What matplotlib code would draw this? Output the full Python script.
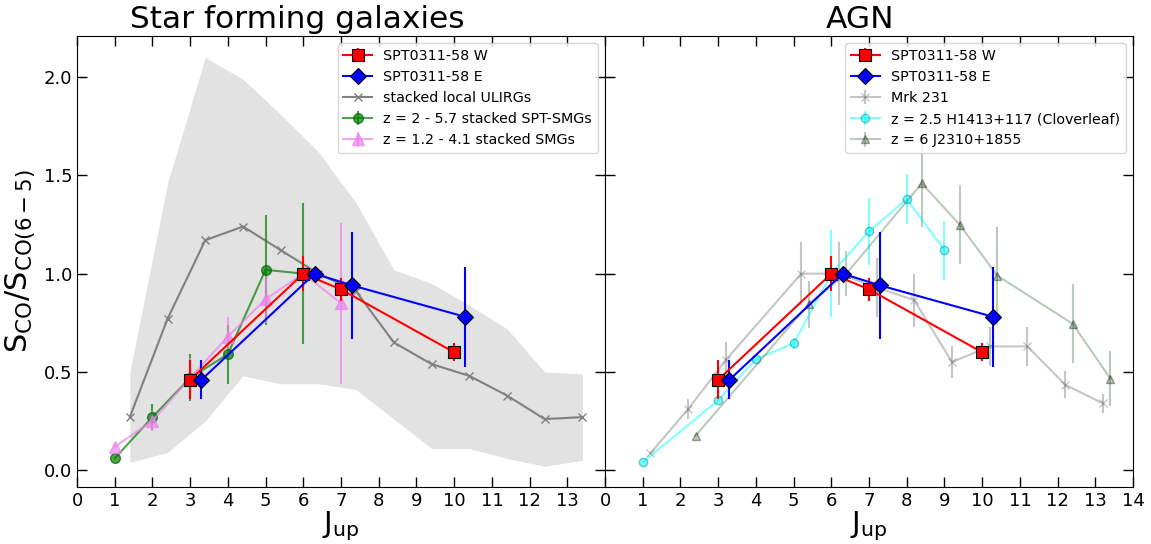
import matplotlib
matplotlib.use("Agg")
import matplotlib.pyplot as plt

# SPT0311-58 W and E, normalised to CO(6-5)
j_w = [3, 6, 7, 10]
s_w = [0.46, 1.0, 0.92, 0.60]
err_w = [0.10, 0.09, 0.06, 0.045]

j_e = [3.3, 6.3, 7.3, 10.3]
s_e = [0.46, 1.0, 0.94, 0.78]
err_e = [0.10, 0.0, 0.27, 0.255]

# stacked local ULIRGs with their spread
j_ulirg = [1.4, 2.4, 3.4, 4.4, 5.4, 6.4, 7.4, 8.4, 9.4, 10.4, 11.4, 12.4, 13.4]
s_ulirg = [0.27, 0.77, 1.17, 1.24, 1.12, 1.0, 0.91, 0.65, 0.54, 0.48, 0.38, 0.26, 0.27]
ulirg_low = [0.04, 0.09, 0.25, 0.48, 0.44, 0.44, 0.41, 0.26, 0.11, 0.11, 0.06, 0.02, 0.05]
ulirg_high = [0.50, 1.46, 2.10, 1.99, 1.81, 1.62, 1.36, 1.02, 0.95, 0.84, 0.72, 0.50, 0.49]

# stacked SPT-SMGs (z = 2 - 5.7)
j_spt = [1, 2, 3, 4, 5, 6]
s_spt = [0.06, 0.27, 0.47, 0.59, 1.02, 1.0]
err_spt = [0.0, 0.065, 0.12, 0.15, 0.28, 0.36]

# stacked SMGs (z = 1.2 - 4.1)
j_smg = [1, 2, 3, 4, 5, 6, 7]
s_smg = [0.12, 0.25, 0.47, 0.68, 0.87, 1.0, 0.85]
err_smg = [0.0, 0.05, 0.10, 0.10, 0.12, 0.0, 0.41]

# Mrk 231
j_mrk = [1.2, 2.2, 3.2, 5.2, 6.2, 7.2, 8.2, 9.2, 10.2, 11.2, 12.2, 13.2]
s_mrk = [0.085, 0.31, 0.56, 1.0, 1.0, 0.93, 0.865, 0.55, 0.63, 0.63, 0.435, 0.34]
err_mrk = [0.0, 0.05, 0.09, 0.16, 0.16, 0.15, 0.135, 0.08, 0.10, 0.10, 0.07, 0.05]

# Cloverleaf
j_clover = [1, 3, 4, 5, 6, 7, 8, 9]
s_clover = [0.04, 0.355, 0.565, 0.645, 1.0, 1.215, 1.38, 1.12]
err_clover = [0.0, 0.0, 0.0, 0.03, 0.22, 0.17, 0.125, 0.15]

# J2310+1855
j_j2310 = [2.4, 5.4, 6.4, 8.4, 9.4, 10.4, 12.4, 13.4]
s_j2310 = [0.175, 0.845, 1.0, 1.46, 1.25, 0.99, 0.745, 0.465]
err_j2310 = [0.0, 0.12, 0.115, 0.22, 0.20, 0.25, 0.20, 0.14]

fig, (ax1, ax2) = plt.subplots(1, 2, figsize=(11.51, 5.44), dpi=100, sharey=True)
fig.subplots_adjust(left=0.0669, right=0.9844, top=0.934, bottom=0.105, wspace=0)


def spt_points(ax):
    ax.errorbar(j_w, s_w, yerr=err_w, color="red", marker="s", ms=9, mec="black",
                mew=0.8, lw=1.5, label="SPT0311-58 W", zorder=10)
    ax.errorbar(j_e, s_e, yerr=err_e, color="blue", marker="D", ms=8, mec="black",
                mew=0.8, lw=1.5, label="SPT0311-58 E", zorder=10)


def ordered_legend(ax, order):
    handles, labels = ax.get_legend_handles_labels()
    lookup = dict(zip(labels, handles))
    ax.legend([lookup[l] for l in order], order, loc="upper right", fontsize=10.3)


# star forming galaxies
spt_points(ax1)
ax1.fill_between(j_ulirg, ulirg_low, ulirg_high, color="lightgray", alpha=0.65,
                 lw=0, zorder=0)
ax1.plot(j_ulirg, s_ulirg, color="gray", marker="x", ms=6, lw=1.5,
         label="stacked local ULIRGs", zorder=3)
ax1.errorbar(j_spt, s_spt, yerr=err_spt, color="green", marker="o", ms=7,
             mec="darkgreen", alpha=0.7, lw=1.5, label="z = 2 - 5.7 stacked SPT-SMGs",
             zorder=4)
ax1.errorbar(j_smg, s_smg, yerr=err_smg, color="violet", marker="^", ms=8,
             alpha=0.7, lw=1.5, label="z = 1.2 - 4.1 stacked SMGs", zorder=4)
ax1.set_title("Star forming galaxies", fontsize=22.5, x=0.417)
ax1.set_ylabel(r"$\rm S_{CO}/S_{CO(6-5)}$", fontsize=22)
ax1.set_xticks(range(0, 14))
ordered_legend(ax1, ["SPT0311-58 W", "SPT0311-58 E", "stacked local ULIRGs",
                     "z = 2 - 5.7 stacked SPT-SMGs", "z = 1.2 - 4.1 stacked SMGs"])

# AGN
spt_points(ax2)
ax2.errorbar(j_mrk, s_mrk, yerr=err_mrk, color="gray", marker="x", ms=6,
             alpha=0.45, lw=1.5, label="Mrk 231", zorder=3)
ax2.errorbar(j_clover, s_clover, yerr=err_clover, color="cyan", marker="o", ms=6,
             mec="darkcyan", alpha=0.5, lw=1.5,
             label="z = 2.5 H1413+117 (Cloverleaf)", zorder=4)
ax2.errorbar(j_j2310, s_j2310, yerr=err_j2310, color="#3d6b3d", marker="^",
             ms=6, mec="black", alpha=0.35, lw=1.5, label="z = 6 J2310+1855", zorder=4)
ax2.set_title("AGN", fontsize=22.5, x=0.483)
ax2.set_xticks(range(0, 15))
ordered_legend(ax2, ["SPT0311-58 W", "SPT0311-58 E", "Mrk 231",
                     "z = 2.5 H1413+117 (Cloverleaf)", "z = 6 J2310+1855"])

for ax in (ax1, ax2):
    ax.set_xlim(0, 14)
    ax.set_ylim(-0.085, 2.21)
    ax.set_xlabel(r"$\rm J_{up}$", fontsize=21, labelpad=0)
    ax.tick_params(direction="in", top=True, right=True, length=7, width=1,
                   labelsize=13)

ax1.set_yticks([0.0, 0.5, 1.0, 1.5, 2.0])
ax2.tick_params(labelleft=False)

fig.savefig("out.png", dpi=100)
